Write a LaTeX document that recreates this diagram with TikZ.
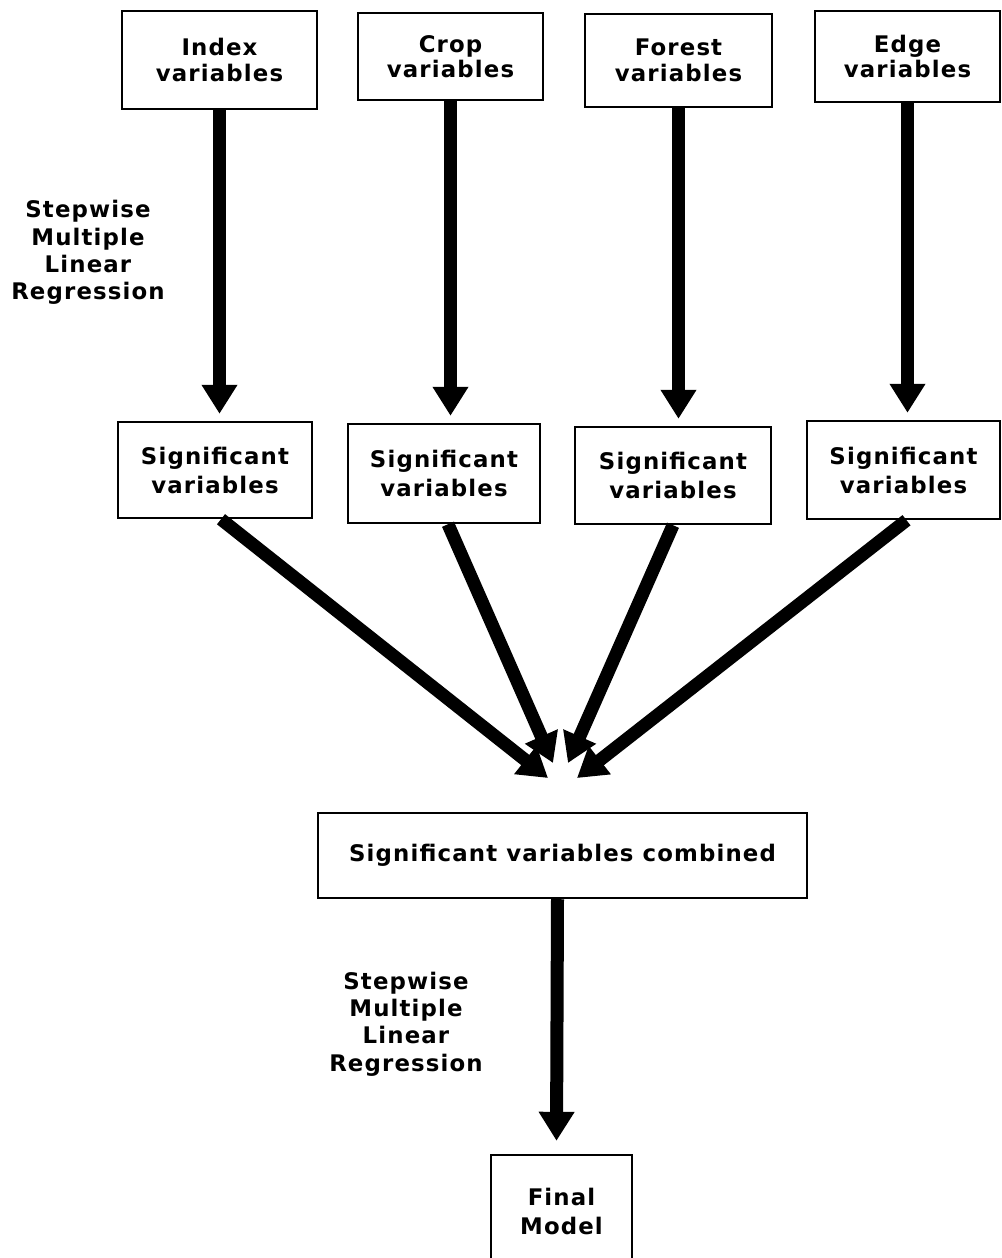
\documentclass[tikz,border=0pt]{standalone}
\usepackage{fontspec}
\newfontfamily\flowfont[LetterSpace=5]{DejaVu Sans}
\usepackage{tikz}
\usetikzlibrary{arrows.meta}

\tikzset{
  varbox/.style={draw, line width=1.4pt, inner sep=0pt, align=center,
    font=\flowfont\bfseries\fontsize{13}{14.5}\selectfont},
  sigbox/.style={varbox, font=\flowfont\bfseries\fontsize{13}{16.5}\selectfont},
  steplabel/.style={align=center, inner sep=0pt,
    font=\flowfont\bfseries\fontsize{13}{15.5}\selectfont},
  bigarrow/.style={line width=7.4pt,
    -{Triangle[length=0.58cm, width=0.68cm]}},
}

\begin{document}
\begin{tikzpicture}[x=0.02cm, y=-0.02cm]

%% ─── Page frame ─────────────────────────────────────────────
\useasboundingbox (0,0) rectangle (1001,1258);

%% ─── Input variable groups ──────────────────────────────────
\node[varbox, minimum width=3.9cm, minimum height=1.96cm] (index) at (219.5,60)
  {Index\\variables};
\node[varbox, minimum width=3.7cm, minimum height=1.74cm] (crop) at (450.5,56.5)
  {Crop\\variables};
\node[varbox, minimum width=3.74cm, minimum height=1.86cm] (forest) at (678.5,60.5)
  {Forest\\variables};
\node[varbox, minimum width=3.7cm, minimum height=1.82cm] (edge) at (907.5,56.5)
  {Edge\\variables};

%% Method label (first step)
\node[steplabel] (stepone) at (88,252.5)
  {Stepwise\\Multiple\\Linear\\Regression};

%% ─── Significant variables per group ────────────────────────
\node[sigbox, minimum width=3.88cm, minimum height=1.92cm] (sigindex) at (215,470)
  {Significant\\variables};
\node[sigbox, minimum width=3.84cm, minimum height=1.98cm] (sigcrop) at (444,473.5)
  {Significant\\variables};
\node[sigbox, minimum width=3.92cm, minimum height=1.94cm] (sigforest) at (673,475.5)
  {Significant\\variables};
\node[sigbox, minimum width=3.86cm, minimum height=1.96cm] (sigedge) at (903.5,470)
  {Significant\\variables};

%% Vertical arrows into the selection boxes
\draw[bigarrow] (index.south) -- ([yshift=0.14cm]index.south |- sigindex.north);
\draw[bigarrow] (crop.south) -- ([yshift=0.14cm]crop.south |- sigcrop.north);
\draw[bigarrow] (forest.south) -- ([yshift=0.14cm]forest.south |- sigforest.north);
\draw[bigarrow] (edge.south) -- ([yshift=0.14cm]edge.south |- sigedge.north);

%% ─── Merge point ────────────────────────────────────────────
\coordinate (meetindex) at (548,778);
\coordinate (meetcrop) at (553,763);
\coordinate (meetforest) at (568,763);
\coordinate (meetedge) at (577,778);

\draw[bigarrow] ([xshift=0.12cm]sigindex.south) -- (meetindex);
\draw[bigarrow] ([xshift=0.08cm]sigcrop.south) -- (meetcrop);
\draw[bigarrow] (sigforest.south) -- (meetforest);
\draw[bigarrow] ([xshift=0.06cm]sigedge.south) -- (meetedge);

%% ─── Combined set and final model ───────────────────────────
\node[varbox, minimum width=9.78cm, minimum height=1.7cm] (combined) at (562.5,855.5)
  {Significant variables combined};

\node[steplabel] (steptwo) at (406,1024)
  {Stepwise\\Multiple\\Linear\\Regression};

\node[sigbox, minimum width=2.82cm, minimum height=2.24cm] (final) at (561.5,1211)
  {Final\\Model};

\draw[bigarrow] ([xshift=-0.1cm]combined.south) -- ([xshift=-0.1cm, yshift=0.26cm]final.north);

\end{tikzpicture}
\end{document}
